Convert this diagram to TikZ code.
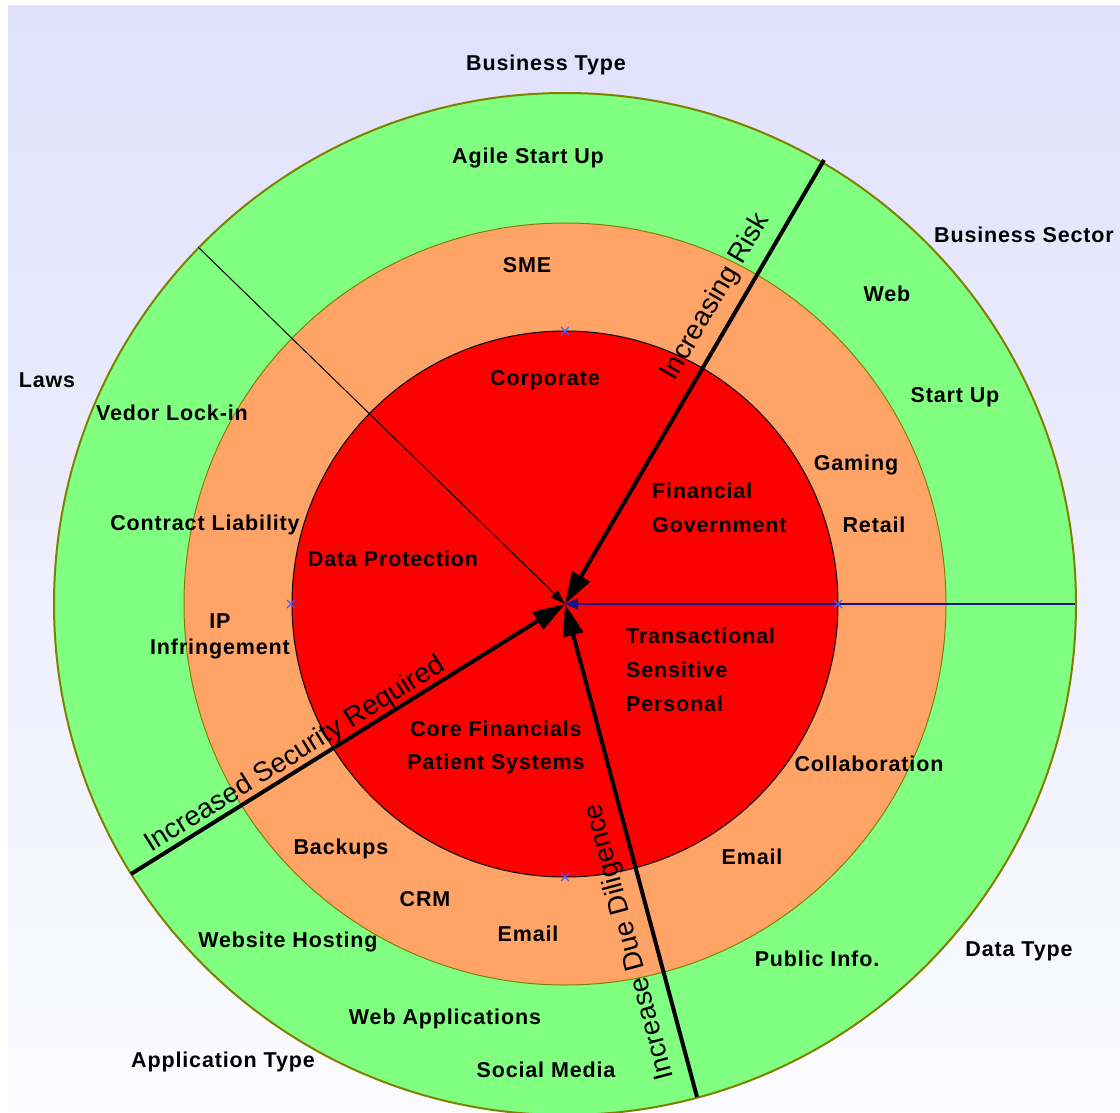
\documentclass[tikz,border=0pt]{standalone}
\usepackage{fontspec}
\setmainfont{Liberation Sans}
\usetikzlibrary{arrows.meta}
\definecolor{bgtop}{RGB}{224,224,252}
\definecolor{bgbot}{RGB}{251,251,255}
\definecolor{ringgreen}{RGB}{128,255,128}
\definecolor{ringorange}{RGB}{255,163,102}
\definecolor{ringred}{RGB}{255,0,0}
\definecolor{ringedge}{RGB}{128,128,0}
\definecolor{navyline}{RGB}{20,20,140}
\definecolor{crossblue}{RGB}{80,90,255}
\begin{document}
\begin{tikzpicture}[x=1pt,y=-1pt,
  lbl/.style={font=\fontsize{21.5}{24}\selectfont\bfseries\addfontfeature{LetterSpace=4}, inner sep=0pt, anchor=center},
  lbll/.style={lbl, anchor=west},
  axislbl/.style={font=\fontsize{27.5}{32}\selectfont, inner sep=0pt},
  bigarrow/.style={line width=4pt, -{Triangle[length=32pt,width=20pt]}},
  thinarrow/.style={line width=1pt, -{Triangle[length=15pt,width=10pt]}},
  bluearrow/.style={line width=1.2pt, draw=navyline, -{Triangle[length=13pt,width=11pt]}},
  xcross/.style={draw=crossblue, line width=1.3pt}
]
% canvas and background
\fill[white] (0,0) rectangle (1120,1113);
\shade[top color=bgtop, bottom color=bgbot] (8,6) rectangle (1120,1111);
\useasboundingbox (0,0) rectangle (1120,1113);

\coordinate (c) at (565,604);

% rings
\filldraw[fill=ringgreen, draw=ringedge, line width=2pt] (c) circle[radius=511];
\filldraw[fill=ringorange, draw=ringedge, line width=1pt] (c) circle[radius=381];
\filldraw[fill=ringred, draw=black, line width=1pt] (c) circle[radius=273];

% connector end points on the outer ring
\coordinate (riskEnd) at (824,160);
\coordinate (lawEnd) at (198,247);
\coordinate (secEnd) at (131,874);
\coordinate (dueEnd) at (697,1097);
\coordinate (dataEnd) at (1075,604);

% markers on the inner circle
\coordinate (mTop) at (565,331);
\coordinate (mLeft) at (291,604);
\coordinate (mRight) at (838,604);
\coordinate (mBottom) at (565,877);

% outer labels
\node[lbl] (bt) at (546,65) {Business Type};
\node[lbl] (bs) at (1024,235) {Business Sector};
\node[lbl] (laws) at (47,380) {Laws};
\node[lbl] (dt) at (1019,951) {Data Type};
\node[lbl] (at) at (223,1062) {Application Type};

% green ring
\node[lbl] (agile) at (528,158) {Agile Start Up};
\node[lbl] (web) at (887,294) {Web};
\node[lbl] (startup) at (955,397) {Start Up};
\node[lbl] (vedor) at (172,413) {Vedor Lock-in};
\node[lbl] (contract) at (205,525) {Contract Liability};
\node[lbl] (ip) at (220,621) {IP};
\node[lbl] (infr) at (220,649) {Infringement};
\node[lbl] (hosting) at (288,942) {Website Hosting};
\node[lbl] (webapps) at (445,1019) {Web Applications};
\node[lbl] (social) at (546,1070) {Social Media};
\node[lbl] (public) at (817,959) {Public Info.};

% orange ring
\node[lbl] (sme) at (527,265) {SME};
\node[lbl] (gaming) at (856,465) {Gaming};
\node[lbl] (retail) at (874,525) {Retail};
\node[lbl] (collab) at (869,764) {Collaboration};
\node[lbl] (email1) at (752,857) {Email};
\node[lbl] (backups) at (341,849) {Backups};
\node[lbl] (crm) at (425,899) {CRM};
\node[lbl] (email2) at (528,934) {Email};

% red core
\node[lbl] (corp) at (545,380) {Corporate};
\node[lbll] (fin) at (652,491) {Financial};
\node[lbll] (gov) at (652,525) {Government};
\node[lbl] (dp) at (393,559) {Data Protection};
\node[lbll] (trans) at (626,636) {Transactional};
\node[lbll] (sens) at (626,670) {Sensitive};
\node[lbll] (pers) at (626,704) {Personal};
\node[lbl] (corefin) at (496,729) {Core Financials};
\node[lbl] (patient) at (496,764) {Patient Systems};

% connectors into the centre
\draw[thinarrow] (lawEnd) -- (c);
\draw[bluearrow] (dataEnd) -- (c);
\draw[bigarrow] (riskEnd) -- (c);
\draw[bigarrow] (secEnd) -- (c);
\draw[bigarrow] (dueEnd) -- (c);

% axis captions
\node[axislbl, rotate=59.7] (risk) at (716,297) {Increasing Risk};
\node[axislbl, rotate=31.9] (sec) at (295,755) {Increased Security Required};
\node[axislbl, rotate=105] (due) at (630,942) {Increase Due Diligence};

% markers
\foreach \p in {mTop,mLeft,mRight,mBottom}{
  \draw[xcross] ([shift={(-4,-4)}]\p) -- ([shift={(4,4)}]\p)
                ([shift={(-4,4)}]\p) -- ([shift={(4,-4)}]\p);
}
\end{tikzpicture}
\end{document}
